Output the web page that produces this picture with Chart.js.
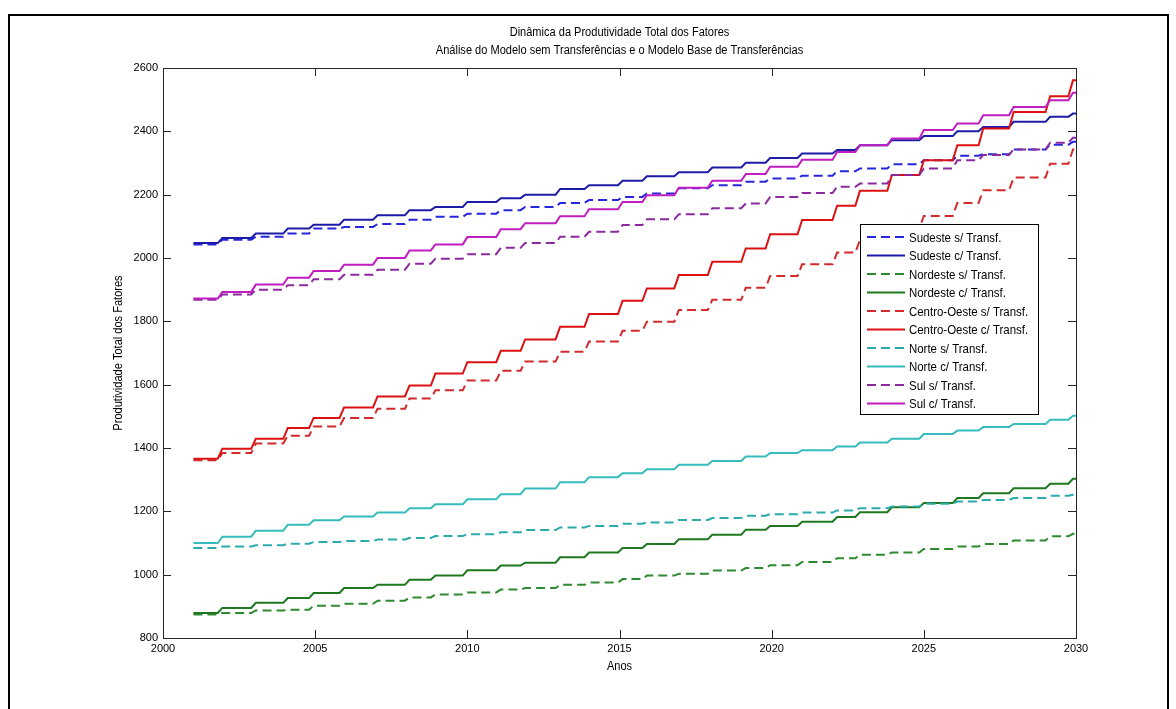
<!DOCTYPE html>
<html><head><meta charset="utf-8">
<script src="https://cdn.jsdelivr.net/npm/chart.js@4.4.1/dist/chart.umd.min.js"></script>
<style>
html,body{margin:0;padding:0;background:#fff;overflow:hidden}
#wrap{position:absolute;left:0;top:0;width:1176px;height:709px;background:#fff}
#frame{position:absolute;left:8px;top:14px;width:1161px;height:730px;border:2px solid #000;box-sizing:border-box;pointer-events:none}
canvas{position:absolute;left:0;top:0}
</style></head><body>
<div id="wrap"><canvas id="c" width="1176" height="709"></canvas><div id="frame"></div></div>
<script>
// ---- data ----
const titleLines = ["Dinâmica da Produtividade Total dos Fatores",
  "Análise do Modelo sem Transferências e o Modelo Base de Transferências"];
const xTitle = "Anos";
const yTitle = "Produtividade Total dos Fatores";
const xTicks = [2000, 2005, 2010, 2015, 2020, 2025, 2030];
const yTicks = [800, 1000, 1200, 1400, 1600, 1800, 2000, 2200, 2400, 2600];
const startYear = 2001, endYear = 2030;
const stepTimes = [2001.8, 2002.9, 2003.95, 2004.8, 2005.8, 2006.9, 2007.95, 2008.8, 2009.85, 2010.95,
  2011.75, 2012.9, 2013.85, 2014.95, 2015.75, 2016.8, 2017.9, 2019.0, 2019.8, 2020.85,
  2022.0, 2022.75, 2023.8, 2024.85, 2025.95, 2026.8, 2027.8, 2029.0, 2029.75];

const seriesLabels = ["Sudeste s/ Transf.", "Sudeste c/ Transf.", "Nordeste s/ Transf.", "Nordeste c/ Transf.",
  "Centro-Oeste s/ Transf.", "Centro-Oeste c/ Transf.", "Norte s/ Transf.", "Norte c/ Transf.",
  "Sul s/ Transf.", "Sul c/ Transf."];

const sudesteS = [2043, 2058, 2067, 2077, 2093, 2098, 2107, 2121, 2130, 2140, 2151, 2161,
  2174, 2183, 2193, 2204, 2220, 2230, 2241, 2251, 2260,
  2274, 2283, 2296, 2309, 2323, 2328, 2343, 2358, 2367];
const sudesteC = [2047, 2063, 2077, 2093, 2105, 2121, 2135, 2151, 2161, 2177, 2189, 2200,
  2218, 2230, 2244, 2258, 2271, 2286, 2301, 2316, 2330,
  2341, 2356, 2372, 2385, 2400, 2414, 2430, 2446, 2456];
const nordesteS = [874, 879, 887, 889, 902, 908, 918, 928, 937, 944, 953, 958,
  968, 975, 986, 997, 1003, 1013, 1021, 1030, 1040,
  1052, 1063, 1070, 1081, 1089, 1097, 1108, 1121, 1129];
const nordesteC = [879, 895, 911, 926, 942, 958, 968, 984, 997, 1014, 1029, 1038,
  1055, 1070, 1084, 1097, 1112, 1126, 1142, 1154, 1167,
  1182, 1197, 1213, 1226, 1242, 1257, 1273, 1287, 1303];
const centroOesteS = [1361, 1384, 1414, 1439, 1468, 1495, 1524, 1556, 1582, 1613, 1644, 1673,
  1704, 1736, 1770, 1799, 1836, 1868, 1906, 1943, 1980,
  2017, 2057, 2093, 2133, 2174, 2214, 2254, 2298, 2343];
const centroOesteC = [1366, 1398, 1429, 1463, 1495, 1528, 1563, 1597, 1635, 1671, 1707, 1743,
  1783, 1823, 1865, 1904, 1946, 1988, 2030, 2075, 2120,
  2165, 2212, 2262, 2309, 2356, 2409, 2461, 2511, 2561];
const norteS = [1084, 1089, 1093, 1098, 1103, 1106, 1111, 1116, 1122, 1128, 1134, 1141,
  1149, 1154, 1161, 1165, 1173, 1179, 1186, 1191, 1196,
  1203, 1210, 1215, 1224, 1231, 1236, 1242, 1249, 1252];
const norteC = [1100, 1120, 1139, 1158, 1172, 1184, 1196, 1210, 1222, 1238, 1254, 1272,
  1292, 1308, 1320, 1333, 1347, 1359, 1373, 1384, 1393,
  1405, 1417, 1429, 1444, 1455, 1466, 1476, 1489, 1502];
const sulS = [1868, 1885, 1900, 1914, 1933, 1947, 1963, 1982, 1998, 2012, 2032, 2047,
  2067, 2083, 2104, 2122, 2138, 2157, 2172, 2193, 2205,
  2225, 2235, 2262, 2283, 2309, 2325, 2343, 2364, 2380];
const sulC = [1872, 1893, 1916, 1938, 1959, 1979, 2000, 2024, 2043, 2066, 2091, 2110,
  2132, 2154, 2177, 2198, 2222, 2244, 2265, 2288, 2310,
  2335, 2356, 2377, 2404, 2425, 2451, 2477, 2498, 2522];

const seriesValues = [sudesteS, sudesteC, nordesteS, nordesteC, centroOesteS, centroOesteC, norteS, norteC, sulS, sulC];
const seriesColors = ["#2626dc", "#1c1ca6", "#2e8a2e", "#1f781f", "#d22a2a", "#dc1212", "#2aaaaa", "#36bcbc", "#8a2a9c", "#c01ec0"];
const seriesDashed = [true, false, true, false, true, false, true, false, true, false];

// ---- build ----
const ramp = 0.15;
function buildSeries(levels) {
  const pts = [];
  for (let i = 0; i < levels.length; i++) {
    const x0 = i === 0 ? startYear : stepTimes[i - 1] + ramp;
    const x1 = i === levels.length - 1 ? endYear : stepTimes[i];
    pts.push({x: x0, y: levels[i]}, {x: x1, y: levels[i]});
  }
  return pts;
}
const FONT = "'Liberation Sans', Arial, sans-serif";
const datasets = seriesValues.map((v, i) => ({
  label: seriesLabels[i],
  data: buildSeries(v),
  borderColor: seriesColors[i],
  backgroundColor: seriesColors[i],
  borderWidth: 2,
  borderDash: seriesDashed[i] ? [9, 5] : [],
  pointRadius: 0,
  tension: 0,
  fill: false,
  order: -i
}));

function narrowText(ctx, text, x, y, sx) {
  ctx.save();
  ctx.translate(x, y);
  ctx.scale(sx, 1);
  ctx.fillText(text, 0, 0);
  ctx.restore();
}

const deco = {
  id: 'deco',
  afterDraw(chart) {
    const ctx = chart.ctx, ca = chart.chartArea;
    const xs = chart.scales.x, ys = chart.scales.y;
    ctx.save();
    // plot box
    ctx.strokeStyle = '#262626'; ctx.lineWidth = 1; ctx.setLineDash([]);
    ctx.strokeRect(Math.round(ca.left) + 0.5, Math.round(ca.top) + 0.5, Math.round(ca.right - ca.left), Math.round(ca.bottom - ca.top));
    // inward ticks
    const tl = 8;
    ctx.beginPath();
    xTicks.forEach(v => {
      const px = Math.round(xs.getPixelForValue(v)) + 0.5;
      ctx.moveTo(px, ca.bottom); ctx.lineTo(px, ca.bottom - tl);
      ctx.moveTo(px, ca.top); ctx.lineTo(px, ca.top + tl);
    });
    yTicks.forEach(v => {
      const py = Math.round(ys.getPixelForValue(v)) + 0.5;
      ctx.moveTo(ca.left, py); ctx.lineTo(ca.left + tl, py);
      ctx.moveTo(ca.right, py); ctx.lineTo(ca.right - tl, py);
    });
    ctx.stroke();
    // titles
    ctx.fillStyle = '#000';
    ctx.textAlign = 'center'; ctx.textBaseline = 'middle';
    ctx.font = '12px ' + FONT;
    const cx = (ca.left + ca.right) / 2;
    narrowText(ctx, titleLines[0], cx, 33, 0.92);
    narrowText(ctx, titleLines[1], cx, 51, 0.92);
    narrowText(ctx, xTitle, cx, 667, 0.92);
    ctx.save();
    ctx.translate(119, (ca.top + ca.bottom) / 2);
    ctx.rotate(-Math.PI / 2);
    ctx.scale(0.92, 1);
    ctx.fillText(yTitle, 0, 0);
    ctx.restore();
    // legend
    const lx = 860.5, ly = 224.5, lw = 178, lh = 190;
    ctx.fillStyle = '#fff';
    ctx.fillRect(lx, ly, lw, lh);
    ctx.strokeStyle = '#000'; ctx.lineWidth = 1;
    ctx.strokeRect(lx, ly, lw, lh);
    ctx.font = '13px ' + FONT;
    ctx.textAlign = 'left';
    chart.data.datasets.forEach((ds, i) => {
      const y = 237 + i * 18.5;
      ctx.strokeStyle = ds.borderColor; ctx.lineWidth = 2;
      ctx.setLineDash(ds.borderDash || []);
      ctx.beginPath(); ctx.moveTo(867, y); ctx.lineTo(905, y); ctx.stroke();
      ctx.setLineDash([]);
      ctx.fillStyle = '#000';
      narrowText(ctx, ds.label, 909, y + 1, 0.88);
    });
    ctx.restore();
  }
};

const tickFont = {family: FONT, size: 11};
new Chart(document.getElementById('c'), {
  type: 'line',
  data: {datasets},
  options: {
    responsive: false,
    animation: false,
    devicePixelRatio: 1,
    layout: {padding: {left: 0, top: 68, right: 100, bottom: 0}},
    plugins: {legend: {display: false}, title: {display: false}, tooltip: {enabled: false}},
    scales: {
      x: {
        type: 'linear', min: 2000, max: 2030,
        afterBuildTicks: s => { s.ticks = xTicks.map(v => ({value: v})); },
        afterFit: s => { s.height = 71; },
        grid: {display: false, drawTicks: false},
        border: {display: false},
        ticks: {color: '#000', font: tickFont, padding: 4, maxRotation: 0, autoSkip: false, callback: v => String(v)}
      },
      y: {
        type: 'linear', min: 800, max: 2600,
        afterBuildTicks: s => { s.ticks = yTicks.map(v => ({value: v})); },
        afterFit: s => { s.width = 163; },
        grid: {display: false, drawTicks: false},
        border: {display: false},
        ticks: {color: '#000', font: tickFont, padding: 5, autoSkip: false, callback: v => String(v)}
      }
    }
  },
  plugins: [deco]
});
</script>
</body></html>
